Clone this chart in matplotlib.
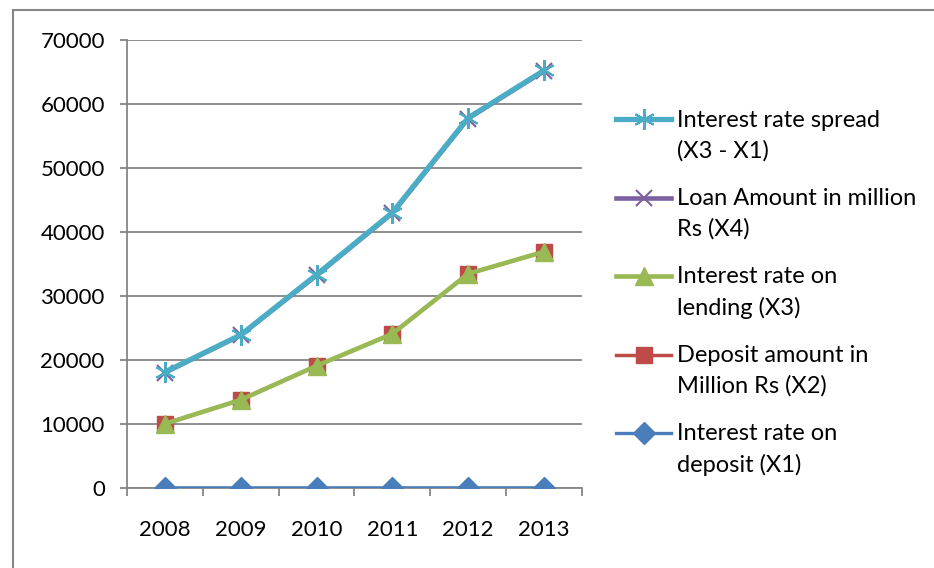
import matplotlib.pyplot as plt
from matplotlib.patches import Rectangle

plt.rcParams['font.family'] = ['Lato', 'DejaVu Sans']

years = ['2008', '2009', '2010', '2011', '2012', '2013']
spread = [18100, 23900, 33300, 43000, 57800, 65200]
loan = [18000, 23850, 33200, 42900, 57700, 65100]
lending = [10010, 13760, 19070, 24070, 33450, 36890]
deposit = [10000, 13750, 19060, 24060, 33440, 36880]
rate_deposit = [8, 9, 9, 10, 11, 10]

grey = '#868686'

fig = plt.figure(figsize=(9.34, 5.68), dpi=100)
ax = fig.add_axes([0.136, 0.141, 0.487, 0.789])
x = range(len(years))

ax.plot(x, rate_deposit, color='#4a7ebb', lw=2.4, marker='D', ms=11,
        label='Interest rate on\ndeposit (X1)', zorder=3)
ax.plot(x, deposit, color='#be4b48', lw=2.5, marker='s', ms=12,
        label='Deposit amount in\nMillion Rs (X2)', zorder=3)
ax.plot(x, lending, color='#98b954', lw=3.3, marker='^', ms=13,
        label='Interest rate on\nlending (X3)', zorder=4)
ax.plot(x, loan, color='#7d60a0', lw=3.3, marker='x', ms=11, mew=1.5,
        label='Loan Amount in million\nRs (X4)', zorder=3)
ax.plot(x, spread, color='#4bacc6', lw=3.8, marker=(6, 2, 0), ms=15, mew=1.5,
        label='Interest rate spread\n(X3 - X1)', zorder=5)

ax.set_xlim(-0.5, 5.5)
ax.set_ylim(0, 70000)
ax.set_yticks(range(0, 70001, 10000))
ax.set_xticks([i - 0.5 for i in range(7)], minor=False)
ax.set_xticks(list(x), minor=True)
ax.set_xticklabels([''] * 7)
ax.set_xticklabels(years, minor=True)
ax.tick_params(axis='x', which='major', length=6, color=grey, width=1.3, direction='out')
ax.tick_params(axis='x', which='minor', length=0, pad=23, labelsize=16)
ax.tick_params(axis='y', length=5, color=grey, width=1.3, labelsize=16, pad=11)
ax.grid(axis='y', color=grey, lw=1.3)
ax.set_axisbelow(True)
for side in ['top', 'right']:
    ax.spines[side].set_visible(False)
for side in ['left', 'bottom']:
    ax.spines[side].set_color(grey)
    ax.spines[side].set_linewidth(1.3)

handles, labels = ax.get_legend_handles_labels()
leg = ax.legend(handles[::-1], labels[::-1], loc='upper left',
                bbox_to_anchor=(0.660, 0.807), bbox_transform=fig.transFigure,
                frameon=False, fontsize=17, handlelength=2.3, handletextpad=0.25,
                labelspacing=1.1, handleheight=1.15, borderaxespad=0, borderpad=0)
for t in leg.get_texts():
    t.set_linespacing(1.55)
# keep each legend symbol level with the first line of its label
for col in leg._legend_handle_box.get_children():
    for item in col.get_children():
        item.align = 'top'

# outer chart border
fig.patches.append(Rectangle((0.014, -0.01), 1.0, 0.993, transform=fig.transFigure,
                             fill=False, edgecolor=grey, lw=1.5))

fig.savefig('out.png', dpi=100)
